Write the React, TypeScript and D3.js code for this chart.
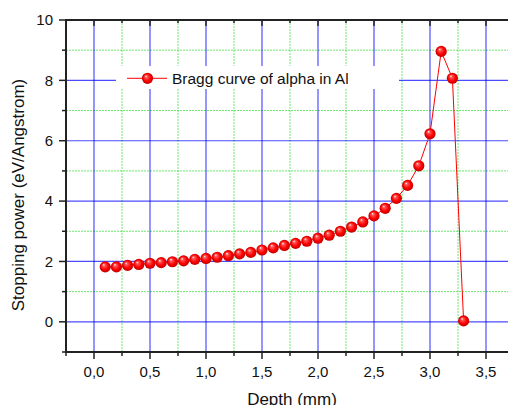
import React from "react";
import * as d3 from "d3";

const depth = [0.1, 0.2, 0.3, 0.4, 0.5, 0.6, 0.7, 0.8, 0.9, 1.0, 1.1, 1.2, 1.3, 1.4, 1.5, 1.6, 1.7, 1.8, 1.9, 2.0, 2.1, 2.2, 2.3, 2.4, 2.5, 2.6, 2.7, 2.8, 2.9, 3.0, 3.1, 3.2, 3.3];
const stopping = [1.82, 1.82, 1.87, 1.9, 1.94, 1.96, 1.99, 2.02, 2.07, 2.1, 2.14, 2.19, 2.25, 2.3, 2.38, 2.45, 2.53, 2.6, 2.67, 2.77, 2.87, 3.0, 3.14, 3.31, 3.51, 3.76, 4.09, 4.52, 5.17, 6.23, 8.96, 8.07, 0.03];
const xMajorTicks = [0, 0.5, 1.0, 1.5, 2.0, 2.5, 3.0, 3.5];
const xMinorTicks = [-0.25, 0.25, 0.75, 1.25, 1.75, 2.25, 2.75, 3.25, 3.75];
const yMajorTicks = [0, 2, 4, 6, 8, 10];
const yMinorTicks = [-1, 1, 3, 5, 7, 9];
const seriesName = "Bragg curve of alpha in Al";
const xTitle = "Depth (mm)";
const yTitle = "Stopping power (eV/Angstrom)";

const W = 508, H = 405;
const L = 66, R = 514, T = 20, B = 352;
const FONT = "'Liberation Sans', Arial, sans-serif";

export default function App() {
  const x = d3.scaleLinear().domain([-0.25, 3.75]).range([L, R]);
  const y = d3.scaleLinear().domain([-1, 10]).range([B, T]);
  const pts = depth.map((d, i) => [d, stopping[i]] as [number, number]);
  const line = d3.line<[number, number]>().x(d => x(d[0])).y(d => y(d[1]));
  const fmt = (v: number) => v.toFixed(1).replace(".", ",");
  const blue = "#0000ff";
  const green = "#33dd33";
  const box = { x0: 116, x1: 399, y0: 66, y1: 89 };
  const legY = 78.3;
  return (
    <div style={{ position: "absolute", left: 0, top: 0 }}>
      <svg width={W} height={H} style={{ display: "block", background: "#fff" }}>
        <defs>
          <radialGradient id="ball" cx="0.5" cy="0.5" r="0.5" fx="0.35" fy="0.3">
            <stop offset="0%" stopColor="#ffffff" />
            <stop offset="22%" stopColor="#ff5a5a" />
            <stop offset="65%" stopColor="#ff0000" />
            <stop offset="100%" stopColor="#c00000" />
          </radialGradient>
        </defs>
        {/* minor grid */}
        {xMinorTicks.filter(t => t > -0.25).map(t => (
          <line key={"xm" + t} x1={x(t)} x2={x(t)} y1={T} y2={B} stroke={green} strokeOpacity={0.7} strokeDasharray="2,1" strokeWidth={1} />
        ))}
        {yMinorTicks.filter(t => t > -1).map(t => (
          <line key={"ym" + t} x1={L} x2={R} y1={y(t)} y2={y(t)} stroke={green} strokeOpacity={0.7} strokeDasharray="2,1" strokeWidth={1} />
        ))}
        {/* major grid */}
        {xMajorTicks.map(t => (
          <line key={"xg" + t} x1={x(t)} x2={x(t)} y1={T} y2={B} stroke={blue} strokeOpacity={0.55} strokeWidth={1.5} />
        ))}
        {yMajorTicks.filter(t => t < 10).map(t => (
          <line key={"yg" + t} x1={L} x2={R} y1={y(t)} y2={y(t)} stroke={blue} strokeOpacity={0.7} strokeWidth={1.2} />
        ))}
        {/* legend box */}
        <rect x={box.x0} y={box.y0} width={box.x1 - box.x0} height={box.y1 - box.y0} fill="#fff" />
        {/* axes */}
        <line x1={L} x2={L} y1={T - 1} y2={B + 1} stroke="#222" strokeWidth={2} />
        <line x1={L - 1} x2={R} y1={B} y2={B} stroke="#222" strokeWidth={2} />
        <line x1={L - 1} x2={R} y1={T} y2={T} stroke="#222" strokeWidth={2} />
        {yMajorTicks.map(t => (
          <g key={"yt" + t}>
            <line x1={L - 7} x2={L} y1={y(t)} y2={y(t)} stroke="#222" strokeWidth={1.5} />
            <text x={53} y={y(t)} dy="0.36em" textAnchor="end" fontFamily={FONT} fontSize={15} fill="#111">{t}</text>
          </g>
        ))}
        {yMinorTicks.map(t => (
          <line key={"ymt" + t} x1={L - 4} x2={L} y1={y(t)} y2={y(t)} stroke="#222" strokeWidth={1.5} />
        ))}
        {xMajorTicks.map(t => (
          <g key={"xt" + t}>
            <line x1={x(t)} x2={x(t)} y1={B} y2={B + 7} stroke="#222" strokeWidth={1.5} />
            <line x1={x(t)} x2={x(t)} y1={T} y2={T + 6} stroke="#222" strokeWidth={1.5} />
            <text x={x(t)} y={377} textAnchor="middle" fontFamily={FONT} fontSize={15} fill="#111">{fmt(t)}</text>
          </g>
        ))}
        {xMinorTicks.map(t => (
          <g key={"xmt" + t}>
            <line x1={x(t)} x2={x(t)} y1={B} y2={B + 4} stroke="#222" strokeWidth={1.5} />
            <line x1={x(t)} x2={x(t)} y1={T} y2={T + 3} stroke="#222" strokeWidth={1.5} />
          </g>
        ))}
        {/* titles */}
        <text x={292} y={405} textAnchor="middle" fontFamily={FONT} fontSize={17} fill="#111">{xTitle}</text>
        <text transform={`translate(24,195) rotate(-90)`} textAnchor="middle" fontFamily={FONT} fontSize={17} fill="#111">{yTitle}</text>
        {/* series */}
        <path d={line(pts) || ""} fill="none" stroke="#ff0000" strokeWidth={1} />
        {pts.map((p, i) => (
          <circle key={"p" + i} cx={x(p[0])} cy={y(p[1])} r={5.6} fill="url(#ball)" />
        ))}
        {/* legend */}
        <line x1={127} x2={167} y1={legY} y2={legY} stroke="#ff0000" strokeWidth={1} />
        <circle cx={147.5} cy={legY} r={5.6} fill="url(#ball)" />
        <text x={172} y={legY + 5.5} fontFamily={FONT} fontSize={15.5} fill="#111">{seriesName}</text>
      </svg>
    </div>
  );
}
